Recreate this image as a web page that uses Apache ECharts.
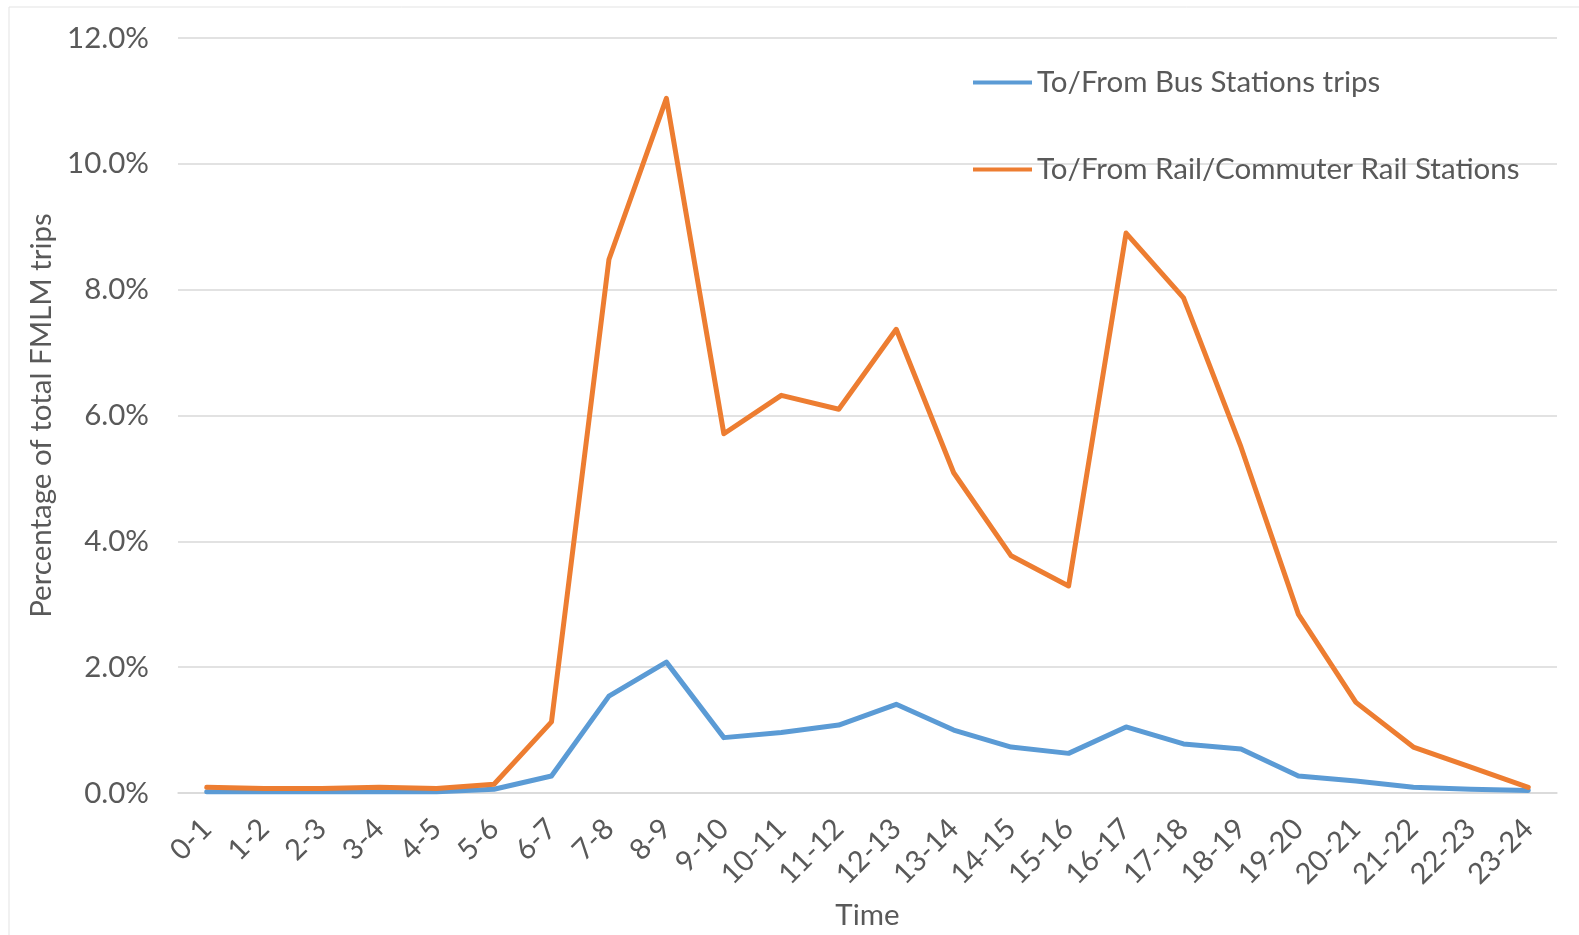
<!DOCTYPE html>
<html>
<head>
<meta charset="utf-8">
<script src="https://cdn.jsdelivr.net/npm/echarts@6/dist/echarts.min.js"></script>
<style>
  html, body { margin: 0; padding: 0; background: #ffffff; }
  #chart { width: 1579px; height: 935px; }
</style>
</head>
<body>
<div id="chart"></div>
<script>
// Hour-of-day bins
const hours = ['0-1','1-2','2-3','3-4','4-5','5-6','6-7','7-8','8-9','9-10','10-11','11-12',
  '12-13','13-14','14-15','15-16','16-17','17-18','18-19','19-20','20-21','21-22','22-23','23-24'];

// Share of total FMLM trips (%) by hour
const busTrips = [0.02,0.02,0.02,0.02,0.02,0.06,0.27,1.54,2.08,0.88,0.96,1.08,
  1.41,1.00,0.73,0.63,1.05,0.78,0.70,0.27,0.19,0.09,0.06,0.04];
const railTrips = [0.09,0.07,0.07,0.09,0.07,0.14,1.13,8.48,11.04,5.71,6.32,6.10,
  7.37,5.09,3.77,3.29,8.90,7.87,5.50,2.84,1.44,0.73,0.41,0.09];

const seriesNames = ['To/From Bus Stations trips', 'To/From Rail/Commuter Rail Stations'];

const FONT = 'Lato, "Open Sans", sans-serif';
const TEXT = '#595959';
const GRID = '#d9d9d9';

const chart = echarts.init(document.getElementById('chart'), null, { renderer: 'canvas' });

chart.setOption({
  backgroundColor: '#ffffff',
  animation: false,
  textStyle: { fontFamily: FONT, color: TEXT },
  graphic: [
    // thin frame along the left and top edges
    { type: 'line', shape: { x1: 9, y1: 7, x2: 9, y2: 935 }, style: { stroke: '#e3e3e3', lineWidth: 1 } },
    { type: 'line', shape: { x1: 9, y1: 7, x2: 1579, y2: 7 }, style: { stroke: '#e3e3e3', lineWidth: 1 } }
  ],
  grid: { left: 178, right: 22, top: 38, bottom: 141, containLabel: false },
  legend: {
    orient: 'vertical',
    left: 968,
    top: 60,
    itemGap: 52,
    itemWidth: 59,
    itemHeight: 4,
    icon: 'rect',
    textStyle: { fontFamily: FONT, fontSize: 29.5, color: TEXT, lineHeight: 35 },
    data: seriesNames
  },
  xAxis: {
    type: 'category',
    data: hours,
    boundaryGap: true,
    name: 'Time',
    nameLocation: 'middle',
    nameGap: 107,
    nameTextStyle: { fontFamily: FONT, fontSize: 29.5, color: TEXT },
    axisLine: { show: true, lineStyle: { color: GRID, width: 1.5 } },
    axisTick: { show: false },
    axisLabel: { rotate: 45, margin: 31, fontFamily: FONT, fontSize: 29, color: TEXT, interval: 0 },
    splitLine: { show: false }
  },
  yAxis: {
    type: 'value',
    min: 0,
    max: 12,
    interval: 2,
    name: 'Percentage of total FMLM trips',
    nameLocation: 'middle',
    nameGap: 121,
    nameTextStyle: { fontFamily: FONT, fontSize: 29.5, color: TEXT },
    axisLine: { show: false },
    axisTick: { show: false },
    axisLabel: { margin: 29, fontFamily: FONT, fontSize: 29.5, color: TEXT, formatter: v => v.toFixed(1) + '%' },
    splitLine: { show: true, lineStyle: { color: GRID, width: 1.5 } }
  },
  series: [
    {
      name: seriesNames[0],
      type: 'line',
      data: busTrips,
      symbol: 'none',
      color: '#5b9bd5',
      lineStyle: { color: '#5b9bd5', width: 5, join: 'round', cap: 'round' }
    },
    {
      name: seriesNames[1],
      type: 'line',
      data: railTrips,
      symbol: 'none',
      color: '#ed7d31',
      lineStyle: { color: '#ed7d31', width: 5, join: 'round', cap: 'round' }
    }
  ]
});
</script>
</body>
</html>
